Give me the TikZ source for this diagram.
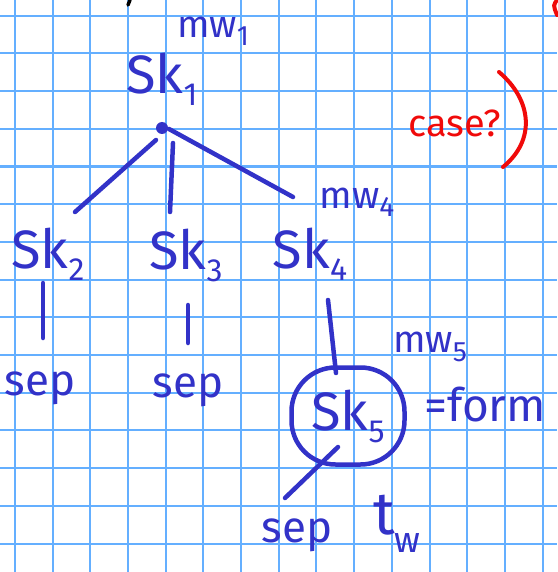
\documentclass[tikz,border=0pt]{standalone}
\usepackage{fontspec}
\setmainfont{Fira Sans}
\usetikzlibrary{calc}
\definecolor{ink}{RGB}{50,50,200}
\definecolor{redink}{RGB}{240,10,10}
\definecolor{gridblue}{RGB}{100,175,255}
\newcommand{\mysub}[3][-0.22em]{\raisebox{#1}{\fontsize{#2}{#2}\selectfont #3}}
\begin{document}
\begin{tikzpicture}[x=1pt,y=-1pt,
  gridline/.style={draw=gridblue, line width=2pt},
  inkline/.style={draw=ink, line width=4.5pt, line cap=round},
  lbl/.style={text=ink, inner sep=0pt},
  skl/.style={lbl, font=\fontsize{54}{54}\selectfont},
  mwl/.style={lbl, font=\fontsize{38}{38}\selectfont},
  sepl/.style={lbl, font=\fontsize{44}{44}\selectfont}]
\fill[white] (0,0) rectangle (557,572);
\useasboundingbox (0,0) rectangle (557,572);
\foreach \k in {0,...,14}{
  \draw[gridline] ({14.8+37.7*\k},0) -- ({14.8+37.7*\k},572);
  \draw[gridline] (0,{15.7+37.7*\k}) -- (557,{15.7+37.7*\k});
}
% stray marks at the top edge
\draw[black, line width=3.5pt, line cap=round] (130,0) -- (128,5);
\draw[redink, line width=4pt, line cap=round] (558,-1) .. controls (553,5) .. (557,15);

% nodes
\node[fill=ink, circle, inner sep=0pt, minimum size=12pt] (dot) at (162,128) {};
\node[mwl] (mw1) at (213,31) {mw\mysub{28}{1}};
\node[skl] (sk1) at (162,79) {Sk\mysub{32}{1}};
\node[skl] (sk2) at (48,254) {Sk\mysub{32}{2}};
\node[skl] (sk3) at (186,255) {Sk\mysub{32}{3}};
\node[skl] (sk4) at (310,254) {Sk\mysub{32}{4}};
\node[mwl] (mw4) at (357,202) {mw\mysub{28}{4}};
\node[sepl] (sep1) at (40,388) {sep};
\node[sepl] (sep2) at (188,390) {sep};
\node[mwl] (mw5) at (430,347) {mw\mysub{28}{5}};
\node[skl, draw=ink, line width=4.5pt, rounded corners=44pt,
      minimum width=113pt, minimum height=97pt] (sk5) at (348,416) {Sk\mysub{32}{5}};
\node[lbl, font=\fontsize{46}{46}\selectfont] (form) at (485,405) {=form};
\node[sepl] (sep3) at (297,535) {sep};
\node[lbl, font=\fontsize{60}{60}\selectfont] (tw) at (397,524) {t\mysub[-0.3em]{36}{w}};
\node[lbl, text=redink, font=\fontsize{38}{38}\selectfont] (case) at (455,123) {case?};
\draw[redink, line width=4pt, line cap=round] (499,72) .. controls (532,100) and (536,140) .. (503,167);

% connectors
\draw[inkline] ($(dot)+(-6,12)$) -- ($(sk2)+(27,-42)$);
\draw[inkline] ($(dot)+(11,15)$) -- ($(sk3)+(-16,-43)$);
\draw[inkline] ($(dot)+(7,1)$) -- ($(mw4)+(-64,-5)$);
\draw[inkline] ($(sk2)+(-5,29)$) -- ($(sep1)+(3,-50)$);
\draw[inkline] ($(sk3)+(2,50)$) -- ($(sep2)+(0,-47)$);
\draw[inkline] ($(sk4)+(18,46)$) -- ($(sk5)+(-12,-43)$);
\draw[inkline] ($(sk5)+(-10,31)$) -- ($(sep3)+(-12,-37)$);
\end{tikzpicture}
\end{document}
